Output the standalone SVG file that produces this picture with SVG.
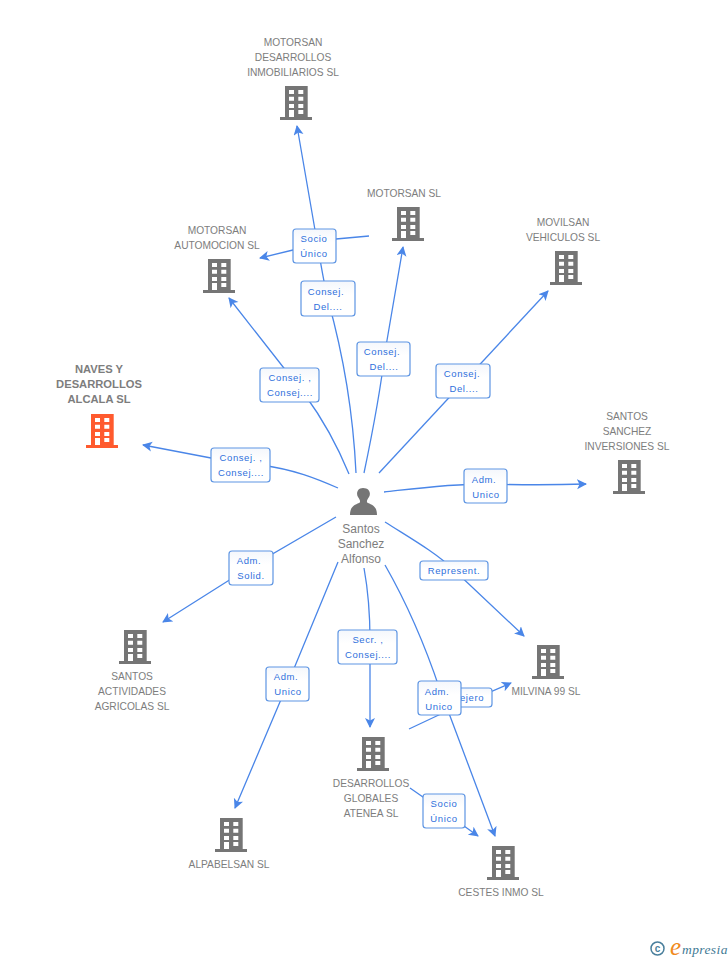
<svg xmlns="http://www.w3.org/2000/svg" xmlns:xlink="http://www.w3.org/1999/xlink" width="728" height="960" viewBox="0 0 728 960">
<style>
.c{fill:none;stroke:#4a86e8;stroke-width:1.3;marker-end:url(#a)}
.t{font:10.2px "Liberation Sans",Arial,sans-serif;fill:#7d7d7d;text-anchor:middle}
.b{font-size:11.2px;font-weight:bold;fill:#7d7d7d}
.s{font:12px "Liberation Sans",Arial,sans-serif;fill:#7d7d7d;text-anchor:middle}
.l{font:9.500px "Liberation Sans",Arial,sans-serif;fill:#2f70dc;text-anchor:middle;letter-spacing:.6px}
.r{fill:url(#g);stroke:#5e95e3;stroke-width:1.2}
</style>
<defs>
<linearGradient id="g" x1="0" y1="0" x2="0" y2="1"><stop offset="0" stop-color="#f4f7fc"/><stop offset=".4" stop-color="#fff"/></linearGradient>
<marker id="a" markerUnits="userSpaceOnUse" markerWidth="12" markerHeight="12" refX="9" refY="5" orient="auto"><path d="M0,0L10,5L0,10L2.500,5Z" fill="#4a86e8"/></marker>
<symbol id="bd" viewBox="0 0 32 34" width="32" height="34" overflow="visible">
<path fill-rule="evenodd" d="M5,0H27.700V31H32V34H0V31H5ZM9,4V8H14V4ZM18.300,4V8H23.300V4ZM9,10.700V14.700H14V10.700ZM18.300,10.700V14.700H23.300V10.700ZM9,18V22H14V18ZM18.300,18V22H23.300V18ZM9,24V31H14V24ZM18.300,24V28H23.300V24Z"/>
</symbol>
</defs>
<rect width="728" height="960" fill="#fff"/>
<g id="connectors">
<path class="c" d="M338,488C315,478 295,470 262,465L211,458L143,445"/>
<path class="c" d="M349,474C337,445 322,418 305,395L229,298"/>
<path class="c" d="M356,473C353,410 342,350 328,300C322,275 317,240 315,230L297,126"/>
<path class="c" d="M364,473C373,430 380,395 385,352L403,247"/>
<path class="c" d="M379,473L548,291"/>
<path class="c" d="M384,492C420,488 450,484 485,484C520,485 555,485 586,484"/>
<path class="c" d="M369,236L336,239L293,250L260,258"/>
<path class="c" d="M336,517L250,567L163,622"/>
<path class="c" d="M338,562L288,683L235,808"/>
<path class="c" d="M364,568C368,590 370,610 370,640V727"/>
<path class="c" d="M385,565C405,600 425,645 440,690L450,716L495,836"/>
<path class="c" d="M385,522C410,538 435,552 454,570L524,636"/>
<path class="c" d="M409,729L460,705L511,683"/>
<path class="c" d="M410,788L443,811L478,836"/>
</g>
<g id="n-motorsan-desarrollos"><text class="t" x="293" y="46">MOTORSAN</text><text class="t" x="293" y="61">DESARROLLOS</text><text class="t" x="293" y="76">INMOBILIARIOS SL</text><use xlink:href="#bd" x="280" y="86" fill="#757575"/></g>
<g id="n-motorsan-sl"><text class="t" x="404" y="197">MOTORSAN SL</text><use xlink:href="#bd" x="392" y="207" fill="#757575"/></g>
<g id="n-automocion"><text class="t" x="217" y="234">MOTORSAN</text><text class="t" x="217" y="249">AUTOMOCION SL</text><use xlink:href="#bd" x="203" y="259" fill="#757575"/></g>
<g id="n-movilsan"><text class="t" x="563" y="226">MOVILSAN</text><text class="t" x="563" y="241">VEHICULOS SL</text><use xlink:href="#bd" x="550" y="251" fill="#757575"/></g>
<g id="n-naves"><text class="t b" x="99" y="373">NAVES Y</text><text class="t b" x="99" y="388">DESARROLLOS</text><text class="t b" x="99" y="403">ALCALA SL</text><use xlink:href="#bd" x="86" y="414" fill="#ff5a2e"/></g>
<g id="n-santos-inversiones"><text class="t" x="627" y="420">SANTOS</text><text class="t" x="627" y="435">SANCHEZ</text><text class="t" x="627" y="450">INVERSIONES SL</text><use xlink:href="#bd" x="613" y="460" fill="#757575"/></g>
<g id="n-santos-agricolas"><use xlink:href="#bd" x="119" y="630" fill="#757575"/><text class="t" x="132" y="680">SANTOS</text><text class="t" x="132" y="695">ACTIVIDADES</text><text class="t" x="132" y="710">AGRICOLAS SL</text></g>
<g id="n-milvina"><use xlink:href="#bd" x="532" y="645" fill="#757575"/><text class="t" x="546" y="695">MILVINA 99 SL</text></g>
<g id="n-atenea"><use xlink:href="#bd" x="357" y="737" fill="#757575"/><text class="t" x="371" y="787">DESARROLLOS</text><text class="t" x="371" y="802">GLOBALES</text><text class="t" x="371" y="817">ATENEA SL</text></g>
<g id="n-alpabelsan"><use xlink:href="#bd" x="215" y="818" fill="#757575"/><text class="t" x="229" y="868">ALPABELSAN SL</text></g>
<g id="n-cestes"><use xlink:href="#bd" x="487" y="846" fill="#757575"/><text class="t" x="501" y="896">CESTES INMO SL</text></g>
<g id="n-santos"><path fill="#757575" d="M350,515C350,507 354,505 359,503C361,502 360,500 358,497C356,494 357,488 363,488C370,488 371,494 369,497C367,500 366,502 368,503C373,505 377,507 377,515Z"/><text class="s" x="361" y="533">Santos</text><text class="s" x="361" y="548">Sanchez</text><text class="s" x="361" y="563">Alfonso</text></g>
<g id="labels">
<g><rect class="r" x="211" y="448" width="59" height="34" rx="3"/><text class="l" x="241" y="461">Consej. ,</text><text class="l" x="241" y="476">Consej....</text></g>
<g><rect class="r" x="260" y="368" width="59" height="34" rx="3"/><text class="l" x="290" y="381">Consej. ,</text><text class="l" x="290" y="396">Consej....</text></g>
<g><rect class="r" x="301" y="281" width="54" height="35" rx="3"/><text class="l" x="326" y="295">Consej.</text><text class="l" x="328" y="310">Del....</text></g>
<g><rect class="r" x="293" y="229" width="43" height="34" rx="3"/><text class="l" x="314" y="242">Socio</text><text class="l" x="314" y="257">Único</text></g>
<g><rect class="r" x="357" y="342" width="53" height="34" rx="3"/><text class="l" x="382" y="355">Consej.</text><text class="l" x="384" y="370">Del....</text></g>
<g><rect class="r" x="436" y="364" width="54" height="34" rx="3"/><text class="l" x="462" y="377">Consej.</text><text class="l" x="464" y="392">Del....</text></g>
<g><rect class="r" x="464" y="469" width="43" height="34" rx="3"/><text class="l" x="484" y="483">Adm.</text><text class="l" x="486" y="498">Unico</text></g>
<g><rect class="r" x="229" y="551" width="44" height="34" rx="3"/><text class="l" x="249" y="564">Adm.</text><text class="l" x="251" y="579">Solid.</text></g>
<g><rect class="r" x="420" y="561" width="68" height="19" rx="3"/><text class="l" x="454" y="574">Represent.</text></g>
<g><rect class="r" x="338" y="630" width="59" height="34" rx="3"/><text class="l" x="368" y="643">Secr. ,</text><text class="l" x="368" y="658">Consej....</text></g>
<g><rect class="r" x="266" y="667" width="43" height="34" rx="3"/><text class="l" x="286" y="680">Adm.</text><text class="l" x="288" y="695">Unico</text></g>
<g><rect class="r" x="436" y="688" width="56" height="19" rx="3"/><text class="l" x="472" y="701">ejero</text></g>
<g><rect class="r" x="418" y="681" width="43" height="34" rx="3"/><text class="l" x="437" y="695">Adm.</text><text class="l" x="439" y="710">Unico</text></g>
<g><rect class="r" x="423" y="794" width="42" height="34" rx="3"/><text class="l" x="444" y="807">Socio</text><text class="l" x="444" y="822">Único</text></g>
</g>
<g id="logo"><circle cx="657.500" cy="948.500" r="6.500" fill="none" stroke="#4a7f9c" stroke-width="1.500"/><text x="657.500" y="952" font-family="'Liberation Sans',sans-serif" font-size="10" font-weight="bold" fill="#4a7f9c" text-anchor="middle">c</text><text x="670" y="955" font-family="'Liberation Serif',serif" font-style="italic" font-size="25" fill="#f08a1d">e</text><text x="682" y="954" font-family="'Liberation Serif',serif" font-style="italic" font-size="13.500" letter-spacing=".4" fill="#3f7a94">mpresia</text></g>
</svg>
